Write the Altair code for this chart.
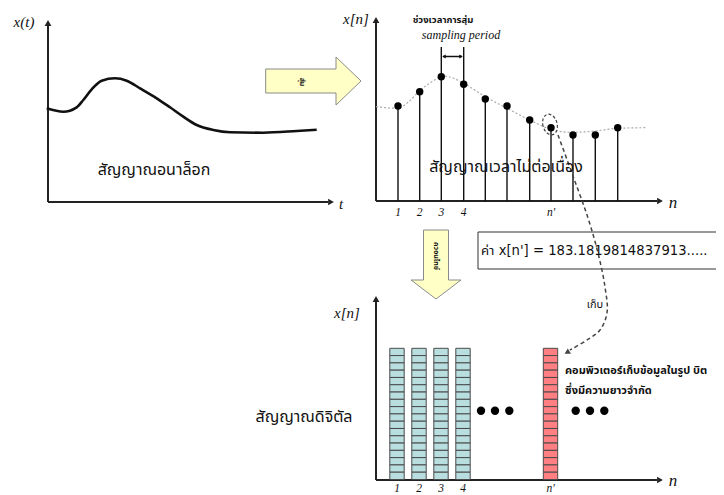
import altair as alt
import pandas as pd

# ---------------- data (page-pixel coordinate system of the diagram) ----------------
# analog signal x(t)
analog_t = [46.7, 63.3, 76.7, 83.3, 91.7, 101.7, 115, 126.7, 140, 156.7, 170, 183.3, 196.7, 213.3, 230, 263.3, 296.7, 316.7]
analog_v = [108.3, 111.7, 107.3, 100, 89.3, 80.7, 78.3, 80.7, 88.3, 98.3, 107.3, 116.7, 125, 130, 132.3, 132.7, 131, 129.7]

# dotted envelope behind the samples
env_t = [376, 398, 408.7, 419.7, 432, 443.7, 453.7, 463.7, 485.3, 507, 529.7, 551, 562, 573, 595.3, 617.7, 645.3]
env_v = [106.7, 108.3, 101.7, 90.7, 81.7, 76, 78.3, 83.3, 96.7, 108.3, 120, 129.3, 131.7, 132.3, 131, 128.3, 127.7]

# samples x[n]
sample_n = [398, 419.7, 441.3, 463.7, 485.3, 507, 529.7, 551, 573, 595.3, 617.7]
sample_v = [106, 91.7, 76.7, 84.3, 99, 106, 120, 127.7, 135, 135, 127.7]
base_top = 201
base_bot = 480

# digital signal columns
bar_centers = [397, 419, 441, 463, 550.5]
bar_kind = ["normal", "normal", "normal", "normal", "selected"]
bar_top = 348.3
n_bits = 18

# dashed "store" path
store_x = [558, 573, 588, 598, 605, 607, 600, 587, 570]
store_y = [135, 176, 218, 253, 287, 313, 330, 340, 350]

# ellipsis dots
dot_x = [481, 495, 509.3, 575.7, 590, 604.3]
dot_y = [410.7] * 6

tick_labels = ["1", "2", "3", "4", "n'"]
tick_x = [398, 419.7, 441.3, 463.7, 551]
tick_x2 = [397, 419, 441, 463, 550.5]

# block-arrow outlines (unit shape paths)
ARROW_RIGHT = "M -0.953,-0.24 L 0.453,-0.24 L 0.453,-0.48 L 0.953,0 L 0.453,0.48 L 0.453,0.24 L -0.953,0.24 Z"
ARROW_DOWN = "M -0.25,-0.69 L 0.25,-0.69 L 0.25,0.31 L 0.5,0.31 L 0,0.69 L -0.5,0.31 L -0.25,0.31 Z"

# ---------------- helpers ----------------
XS = alt.Scale(domain=[8, 716], zero=False, nice=False)
YS = alt.Scale(domain=[8, 495], zero=False, nice=False, reverse=True)


def X(f="x"):
    return alt.X(f"{f}:Q", scale=XS, axis=None)


def Y(f="y"):
    return alt.Y(f"{f}:Q", scale=YS, axis=None)


def base(df):
    return alt.Chart(pd.DataFrame(df))


layers = []

# axes
axes = base({
    "x": [48, 48, 376, 376, 376, 376],
    "y": [202, 202, 201, 201, 480, 480],
    "x2": [48, 328, 376, 657, 376, 657],
    "y2": [26, 202, 23, 201, 302, 480],
})
layers.append(axes.mark_rule(color="#222", strokeWidth=2).encode(
    x=X(), y=Y(), x2="x2:Q", y2="y2:Q"))
heads = base({
    "x": [48, 331, 376, 660, 376, 660],
    "y": [23, 202, 20, 201, 299, 480],
    "angle": [0, 90, 0, 90, 0, 90],
})
layers.append(heads.mark_point(shape="triangle-up", filled=True, color="#222", size=45, opacity=1).encode(
    x=X(), y=Y(), angle=alt.Angle("angle:Q", scale=None)))

# analog curve
layers.append(base({"x": analog_t, "y": analog_v}).mark_line(
    color="#111", strokeWidth=2.6, interpolate="monotone").encode(x=X(), y=Y()))

# envelope
layers.append(base({"x": env_t, "y": env_v}).mark_line(
    color="#aaaaaa", strokeWidth=1.2, strokeDash=[2, 2], interpolate="monotone").encode(x=X(), y=Y()))

# stems
stem_top = list(sample_v)
stem_top[2] = 47
stem_top[3] = 47
layers.append(base({"x": sample_n, "y": [base_top] * len(sample_n), "y2": stem_top}).mark_rule(
    color="#111", strokeWidth=1.4).encode(x=X(), y=Y(), y2="y2:Q"))
layers.append(base({"x": sample_n, "y": sample_v}).mark_point(
    filled=True, color="#000", size=55, opacity=1).encode(x=X(), y=Y()))

# sampling period double arrow
layers.append(base({"x": [443], "x2": [462], "y": [56.5]}).mark_rule(color="#111", strokeWidth=1.5).encode(
    x=X(), x2="x2:Q", y=Y()))
layers.append(base({"x": [444, 461], "y": [56.5, 56.5], "angle": [270, 90]}).mark_point(
    shape="triangle-up", filled=True, color="#111", size=16, opacity=1).encode(
    x=X(), y=Y(), angle=alt.Angle("angle:Q", scale=None)))

# big block arrows
layers.append(base({"x": [313.35], "y": [81]}).mark_point(
    shape=ARROW_RIGHT, size=10000, fill="#FFFFC6", stroke="#8a8a8a", strokeWidth=1, filled=False,
    fillOpacity=1, opacity=1).encode(x=X(), y=Y()))
layers.append(base({"x": [436], "y": [264.5]}).mark_point(
    shape=ARROW_DOWN, size=10000, fill="#FFFFC6", stroke="#8a8a8a", strokeWidth=1, filled=False,
    fillOpacity=1, opacity=1).encode(x=X(), y=Y()))

# value box
layers.append(base({"x": [478], "x2": [740], "y": [232], "y2": [269]}).mark_rect(
    fill="white", stroke="#333", strokeWidth=1).encode(x=X(), x2="x2:Q", y=Y(), y2="y2:Q"))

# bit columns
cells = []
h = (base_bot - 0.5 - bar_top) / n_bits
for c, k in zip(bar_centers, bar_kind):
    for i in range(n_bits):
        cells.append({"x": c - 7.2, "x2": c + 7.2, "y": bar_top + i * h, "y2": bar_top + (i + 1) * h, "kind": k})
layers.append(alt.Chart(pd.DataFrame(cells)).mark_rect(stroke="#4a4a4a", strokeWidth=1).encode(
    x=X(), x2="x2:Q", y=Y(), y2="y2:Q",
    fill=alt.Fill("kind:N", scale=alt.Scale(domain=["normal", "selected"], range=["#B8DEE0", "#FF7F82"]), legend=None)))

# ellipsis dots
layers.append(base({"x": dot_x, "y": dot_y}).mark_point(filled=True, color="#000", size=70, opacity=1).encode(x=X(), y=Y()))

# dashed ellipse and store path
layers.append(base({"x": [550], "y": [124.5]}).mark_point(
    shape="M -0.68,0 A 0.68,1 0 1,1 0.68,0 A 0.68,1 0 1,1 -0.68,0 Z",
    size=440, stroke="#444", strokeWidth=1.2, strokeDash=[3, 2], filled=False, opacity=1, angle=345).encode(x=X(), y=Y()))
layers.append(base({"x": store_x, "y": store_y, "o": list(range(len(store_x)))}).mark_line(
    color="#444", strokeWidth=1.5, strokeDash=[4, 3], interpolate="catmull-rom").encode(x=X(), y=Y(), order="o:Q"))
layers.append(base({"x": [567], "y": [352.5]}).mark_point(
    shape="triangle-up", filled=True, color="#444", size=40, opacity=1, angle=240).encode(x=X(), y=Y()))

# ---------------- texts ----------------
THAI = "Noto Sans Thai, Noto Sans Thai UI, Tahoma, Noto Sans, sans-serif"
MIXED = "DejaVu Sans, Noto Sans Thai, sans-serif"
SERIF = "Liberation Serif, DejaVu Serif, serif"


def texts(rows, **kw):
    df = pd.DataFrame(rows, columns=["t", "x", "y", "size", "angle"])
    return base(df).mark_text(baseline="middle", **kw).encode(
        x=X(), y=Y(), text="t:N",
        size=alt.Size("size:Q", scale=None), angle=alt.Angle("angle:Q", scale=None))


layers.append(texts([
    ("สัญญาณอนาล็อก", 154, 170, 16, 0),
    ("สัญญาณเวลาไม่ต่อเนื่อง", 506, 167, 16, 0),
    ("สัญญาณดิจิตัล", 304, 417, 16, 0),
    ("เก็บ", 595, 305, 11, 0),
], font=THAI, color="#111", align="center"))
layers.append(texts([
    ("ค่า x[n'] = 183.1819814837913.....", 481, 251, 13.2, 0),
], font=MIXED, color="#111", align="left"))
layers.append(texts([
    ("คอมพิวเตอร์เก็บข้อมูลในรูป บิต", 565, 371, 11, 0),
    ("ซึ่งมีความยาวจำกัด", 565, 391, 11, 0),
], font=THAI, color="#111", align="left", fontWeight="bold"))
layers.append(texts([
    ("ช่วงเวลาการสุ่ม", 443, 20, 9.5, 0),
    ("สุ่ม", 302, 82, 7, 90),
    ("ควอนไทซ์", 436, 256, 7, 90),
], font=THAI, color="#111", align="center", fontWeight="bold"))

serif_rows = [
    ("x(t)", 24, 22, 15, 0),
    ("t", 341, 204, 15, 0),
    ("x[n]", 356, 19, 15, 0),
    ("n", 673, 203, 17, 0),
    ("x[n]", 347, 313, 15, 0),
    ("n", 673, 481, 17, 0),
    ("sampling period", 461, 35, 12, 0),
]
for lab, tx in zip(tick_labels, tick_x):
    serif_rows.append((lab, tx, 213, 11.5, 0))
for lab, tx in zip(tick_labels, tick_x2):
    serif_rows.append((lab, tx, 489, 11.5, 0))
layers.append(texts(serif_rows, font=SERIF, color="#111", align="center", fontStyle="italic"))

chart = alt.layer(*layers).properties(
    width=708, height=487, padding=0, autosize="none"
).configure_view(stroke=None)

chart.save("out.html", embed_options={"renderer": "svg", "actions": False})
